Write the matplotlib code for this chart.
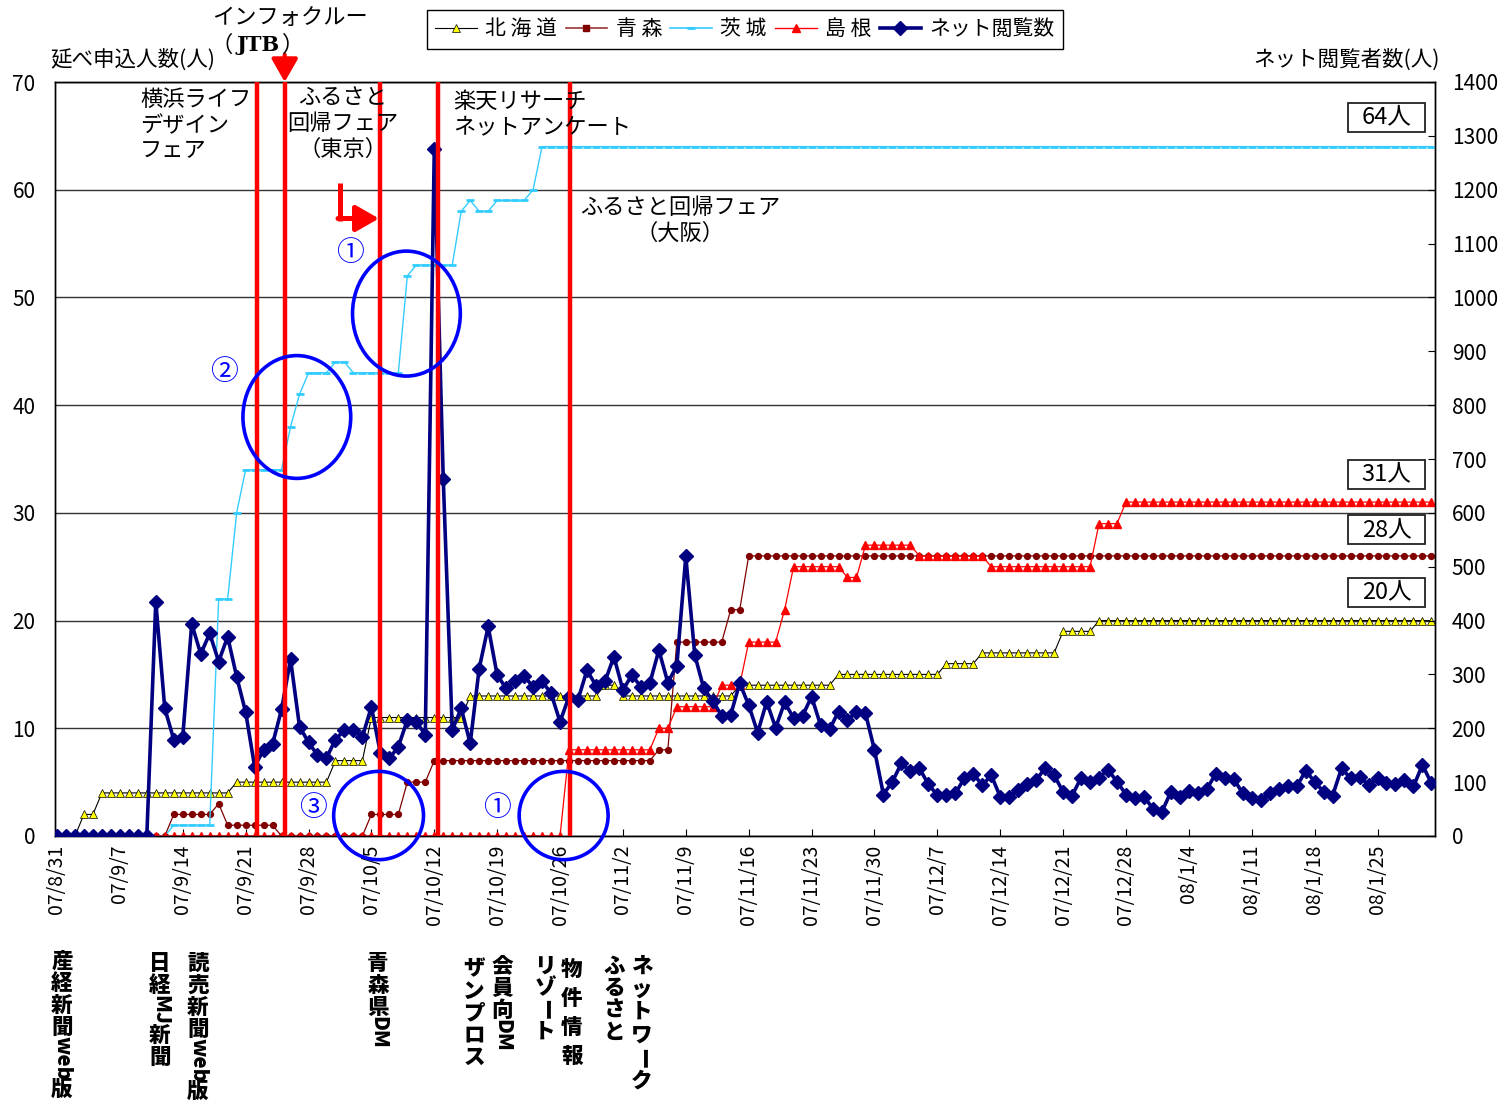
import re
import numpy as np
import matplotlib
matplotlib.use('Agg')
import matplotlib.pyplot as plt
from matplotlib.lines import Line2D
from matplotlib.patches import Ellipse, Rectangle, FancyArrowPatch

plt.rcParams['font.family'] = ['Noto Sans CJK JP', 'DejaVu Sans']

# ---- data (one row = one week, starting 07/8/31) ----
tick_labels = ['07/8/31', '07/9/7', '07/9/14', '07/9/21', '07/9/28', '07/10/5',
               '07/10/12', '07/10/19', '07/10/26', '07/11/2', '07/11/9', '07/11/16',
               '07/11/23', '07/11/30', '07/12/7', '07/12/14', '07/12/21', '07/12/28',
               '08/1/4', '08/1/11', '08/1/18', '08/1/25']

hokkaido = [0, 0, 0, 2, 2, 4, 4,
            4, 4, 4, 4, 4, 4, 4,
            4, 4, 4, 4, 4, 4, 5,
            5, 5, 5, 5, 5, 5, 5,
            5, 5, 5, 7, 7, 7, 7,
            11, 11, 11, 11, 11, 11, 11,
            11, 11, 11, 11, 13, 13, 13,
            13, 13, 13, 13, 13, 13, 13,
            13, 13, 13, 13, 13, 14, 14,
            13, 13, 13, 13, 13, 13, 13,
            13, 13, 13, 13, 13, 13, 14,
            14, 14, 14, 14, 14, 14, 14,
            14, 14, 14, 15, 15, 15, 15,
            15, 15, 15, 15, 15, 15, 15,
            15, 16, 16, 16, 16, 17, 17,
            17, 17, 17, 17, 17, 17, 17,
            19, 19, 19, 19, 20, 20, 20,
            20, 20, 20, 20, 20, 20, 20,
            20, 20, 20, 20, 20, 20, 20,
            20, 20, 20, 20, 20, 20, 20,
            20, 20, 20, 20, 20, 20, 20,
            20, 20, 20, 20, 20, 20, 20]

aomori = [0, 0, 0, 0, 0, 0, 0,
          0, 0, 0, 0, 0, 0, 2,
          2, 2, 2, 2, 3, 1, 1,
          1, 1, 1, 1, 0, 0, 0,
          0, 0, 0, 0, 0, 0, 0,
          2, 2, 2, 2, 5, 5, 5,
          7, 7, 7, 7, 7, 7, 7,
          7, 7, 7, 7, 7, 7, 7,
          7, 7, 7, 7, 7, 7, 7,
          7, 7, 7, 7, 8, 8, 18,
          18, 18, 18, 18, 18, 21, 21,
          26, 26, 26, 26, 26, 26, 26,
          26, 26, 26, 26, 26, 26, 26,
          26, 26, 26, 26, 26, 26, 26,
          26, 26, 26, 26, 26, 26, 26,
          26, 26, 26, 26, 26, 26, 26,
          26, 26, 26, 26, 26, 26, 26,
          26, 26, 26, 26, 26, 26, 26,
          26, 26, 26, 26, 26, 26, 26,
          26, 26, 26, 26, 26, 26, 26,
          26, 26, 26, 26, 26, 26, 26,
          26, 26, 26, 26, 26, 26, 26]

ibaraki = [0, 0, 0, 0, 0, 0, 0,
           0, 0, 0, 0, 0, 0, 1,
           1, 1, 1, 1, 22, 22, 30,
           34, 34, 34, 34, 34, 38, 41,
           43, 43, 43, 44, 44, 43, 43,
           43, 43, 43, 43, 52, 53, 53,
           53, 53, 53, 58, 59, 58, 58,
           59, 59, 59, 59, 60, 64, 64,
           64, 64, 64, 64, 64, 64, 64,
           64, 64, 64, 64, 64, 64, 64,
           64, 64, 64, 64, 64, 64, 64,
           64, 64, 64, 64, 64, 64, 64,
           64, 64, 64, 64, 64, 64, 64,
           64, 64, 64, 64, 64, 64, 64,
           64, 64, 64, 64, 64, 64, 64,
           64, 64, 64, 64, 64, 64, 64,
           64, 64, 64, 64, 64, 64, 64,
           64, 64, 64, 64, 64, 64, 64,
           64, 64, 64, 64, 64, 64, 64,
           64, 64, 64, 64, 64, 64, 64,
           64, 64, 64, 64, 64, 64, 64,
           64, 64, 64, 64, 64, 64, 64]

shimane = [0, 0, 0, 0, 0, 0, 0,
           0, 0, 0, 0, 0, 0, 0,
           0, 0, 0, 0, 0, 0, 0,
           0, 0, 0, 0, 0, 0, 0,
           0, 0, 0, 0, 0, 0, 0,
           0, 0, 0, 0, 0, 0, 0,
           0, 0, 0, 0, 0, 0, 0,
           0, 0, 0, 0, 0, 0, 0,
           0, 8, 8, 8, 8, 8, 8,
           8, 8, 8, 8, 10, 10, 12,
           12, 12, 12, 12, 14, 14, 14,
           18, 18, 18, 18, 21, 25, 25,
           25, 25, 25, 25, 24, 24, 27,
           27, 27, 27, 27, 27, 26, 26,
           26, 26, 26, 26, 26, 26, 25,
           25, 25, 25, 25, 25, 25, 25,
           25, 25, 25, 25, 29, 29, 29,
           31, 31, 31, 31, 31, 31, 31,
           31, 31, 31, 31, 31, 31, 31,
           31, 31, 31, 31, 31, 31, 31,
           31, 31, 31, 31, 31, 31, 31,
           31, 31, 31, 31, 31, 31, 31]

net_views = [0, 0, 0, 0, 0, 0, 0,
             0, 0, 0, 0, 435, 237, 179,
             184, 394, 338, 376, 324, 370, 296,
             230, 129, 160, 171, 235, 328, 203,
             174, 150, 145, 179, 197, 197, 184,
             240, 154, 144, 166, 215, 212, 188,
             1276, 663, 197, 237, 172, 311, 389,
             299, 274, 287, 297, 277, 287, 265,
             212, 259, 253, 308, 279, 287, 333,
             271, 299, 277, 284, 345, 285, 316,
             519, 336, 274, 251, 223, 225, 284,
             243, 192, 249, 201, 248, 219, 223,
             259, 206, 198, 231, 215, 231, 228,
             160, 77, 101, 135, 120, 126, 96,
             76, 77, 79, 107, 116, 94, 113,
             73, 73, 85, 96, 104, 126, 113,
             82, 75, 108, 101, 108, 123, 101,
             77, 70, 73, 51, 45, 82, 73,
             84, 79, 87, 116, 107, 106, 79,
             70, 67, 79, 87, 92, 92, 121,
             101, 82, 75, 126, 107, 110, 95,
             108, 98, 96, 104, 92, 132, 98]

series_names = ['北 海 道', '青 森', '茨 城', '島 根', 'ネット閲覧数']

# event lines (day index) and circled areas (day, left-axis value, width, height)
event_days = [22.25, 25.35, 36.0, 42.4, 57.1]
circles = [(26.7, 38.9, 12.0, 11.4), (38.9, 48.5, 12.0, 11.6),
           (35.8, 1.9, 10.0, 8.2), (56.4, 1.9, 9.9, 8.2)]
totals = [('64人', 117), ('31人', 474), ('28人', 530), ('20人', 592)]

W, H = 1507, 1115


def fx(px):
    return px / W


def fy(py):
    return 1 - py / H


fig = plt.figure(figsize=(W / 100, H / 100), dpi=100)
ax = fig.add_axes([fx(55), fy(836), (1435 - 55) / W, (836 - 82) / H])
ax2 = ax.twinx()

days = np.arange(len(net_views))

ax.plot(days, hokkaido, color='black', lw=0.8, marker='^', ms=5.5,
        mfc='#FFFF00', mec='black', mew=0.5, zorder=3)
ax.plot(days, aomori, color='#800000', lw=0.9, marker='o', ms=4.2,
        mfc='#800000', mec='#800000', zorder=4)
ax.plot(days, ibaraki, color='#33CCFF', lw=1.0, marker='_', ms=6, mew=2, zorder=5)
ax.plot(days, shimane, color='#FF0000', lw=0.9, marker='^', ms=5.5,
        mfc='#FF0000', mec='#FF0000', zorder=6)
ax2.plot(days, net_views, color='#000080', lw=2.6, marker='D', ms=7.5, zorder=3)

ax.set_xlim(-0.22, 153.4)
ax.set_ylim(0, 70)
ax2.set_ylim(0, 1400)
ax.set_yticks(range(0, 71, 10))
ax2.set_yticks(range(0, 1401, 100))
ax.set_xticks(np.arange(0, len(days), 7))
ax.set_xticklabels(tick_labels, rotation=90, fontsize=14)
ax.yaxis.grid(True, color='#333333', lw=1.0)
ax.set_axisbelow(True)
ax.tick_params(axis='x', direction='in', length=5, pad=6, colors='black')
ax.tick_params(axis='y', direction='in', length=0, pad=14, labelsize=15)
ax2.tick_params(axis='y', direction='in', length=5, pad=12, labelsize=15)
for a in (ax, ax2):
    for s in a.spines.values():
        s.set_color('black')
        s.set_linewidth(1.0)

# event markers
for d in event_days:
    ax2.axvline(d, color='#FF0000', lw=3.2, zorder=6)
ax2.annotate('', xy=(event_days[1], 1.0), xycoords=('data', 'axes fraction'),
             xytext=(event_days[1], 1.036), textcoords=('data', 'axes fraction'),
             arrowprops=dict(arrowstyle='-|>,head_length=0.7,head_width=0.4',
                             color='#FF0000', lw=3, mutation_scale=20,
                             shrinkA=0, shrinkB=0),
             annotation_clip=False)

for cx, cy, w, h in circles:
    ax2.add_patch(Ellipse((cx, cy), w, h, transform=ax.transData, fill=False,
                          ec='#0000FF', lw=2.6, clip_on=False, zorder=7))

# L-shaped red arrow
fig.add_artist(Line2D([fx(340), fx(340)], [fy(183), fy(220.5)], color='#FF0000',
                      lw=3.6, solid_capstyle='butt'))
fig.add_artist(FancyArrowPatch((fx(338), fy(218.5)), (fx(379), fy(218.5)),
                               transform=fig.transFigure,
                               arrowstyle='-|>,head_length=0.7,head_width=0.4',
                               mutation_scale=20, color='#FF0000', lw=3.6,
                               shrinkA=0, shrinkB=0))

# texts
txt = dict(fontsize=16, color='black', linespacing=1.15)
fig.text(fx(140), fy(88), '横浜ライフ\nデザイン\nフェア', ha='left', va='top', **txt)
fig.text(fx(343), fy(86), 'ふるさと\n回帰フェア\n（東京）', ha='center', va='top',
         multialignment='center', **txt)
fig.text(fx(453), fy(90), '楽天リサーチ\nネットアンケート', ha='left', va='top', **txt)
fig.text(fx(680), fy(196), 'ふるさと回帰フェア\n（大阪）', ha='center', va='top',
         multialignment='center', **txt)
fig.text(fx(290), fy(18), 'インフォクルー', ha='center', va='center', fontsize=16)
fig.text(fx(233), fy(45), '（', ha='right', va='center', fontsize=16)
fig.text(fx(258), fy(45), 'JTB', ha='center', va='center', fontsize=15,
         family='DejaVu Serif', weight='bold')
fig.text(fx(282), fy(45), '）', ha='left', va='center', fontsize=16)
fig.text(fx(50), fy(60), '延べ申込人数(人)', ha='left', va='center', fontsize=15.5)
fig.text(fx(1440), fy(60), 'ネット閲覧者数(人)', ha='right', va='center', fontsize=15.5)

for s, x, y in [('②', 224, 372), ('①', 350, 253), ('③', 313, 808), ('①', 497, 808)]:
    fig.text(fx(x), fy(y), s, ha='center', va='center', fontsize=20, color='#0000FF')

for label, yc in totals:
    fig.add_artist(Rectangle((fx(1348), fy(yc + 14.5)), 77 / W, 29 / H,
                             transform=fig.transFigure, fc='white', ec='#222222', lw=1.3))
    fig.text(fx(1386.5), fy(yc), label, ha='center', va='center', fontsize=17)


def vertical_label(x, y, text, pitch, size=15.5):
    for tok in re.findall(r'[A-Za-z]+|.', text):
        if tok.isascii():
            fs = size * 0.95
            step = len(tok) * 0.6 * fs * 1.389 + 4
            fig.text(fx(x), fy(y + step / 2), tok, rotation=-90, ha='center',
                     va='center', fontsize=fs, weight='heavy')
        elif tok == 'ー':
            step = pitch
            fig.text(fx(x), fy(y + step / 2), tok, rotation=-90, ha='center',
                     va='center', fontsize=size, weight='heavy')
        else:
            step = pitch
            fig.text(fx(x), fy(y + step / 2), tok, ha='center', va='center',
                     fontsize=size, weight='heavy')
        y += step


for text, x, y, pitch in [('産経新聞web版', 62, 950, 22), ('日経MJ新聞', 160, 952, 22),
                          ('読売新聞web版', 198, 952, 22), ('青森県DM', 378, 952, 22),
                          ('ザンプロス', 474, 958, 22), ('会員向DM', 502, 955, 22),
                          ('リゾート', 545, 955, 22), ('物件情報', 572, 955, 29),
                          ('ふるさと', 614, 955, 22), ('ネットワーク', 642, 955, 23)]:
    vertical_label(x, y, text, pitch)

# legend
handles = [Line2D([], [], color='black', lw=0.8, marker='^', ms=5.5, mfc='#FFFF00',
                  mec='black', mew=0.5),
           Line2D([], [], color='#993333', lw=1.2, marker='s', ms=4, mfc='#800000',
                  mec='#800000'),
           Line2D([], [], color='#33CCFF', lw=1.2, marker='_', ms=6, mew=2),
           Line2D([], [], color='#FF0000', lw=1.0, marker='^', ms=5.5, mfc='#FF0000',
                  mec='#FF0000'),
           Line2D([], [], color='#000080', lw=2.6, marker='D', ms=7.5)]
leg = fig.legend(handles, series_names, loc='upper left', bbox_to_anchor=(fx(427), fy(10)),
                 ncol=5, fontsize=15, frameon=True, fancybox=False, edgecolor='black',
                 framealpha=1, handlelength=2.0, handletextpad=0.4, columnspacing=0.4,
                 borderpad=0.4, borderaxespad=0)
leg.get_frame().set_linewidth(1.0)

fig.savefig('out.png', dpi=100)
